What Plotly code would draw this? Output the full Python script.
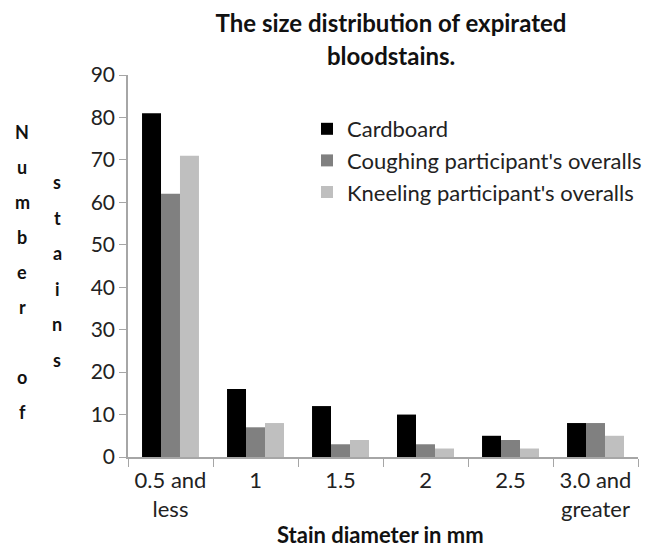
import plotly.graph_objects as go

categories = ["0.5 and<br>less", "1", "1.5", "2", "2.5", "3.0 and<br>greater"]
cardboard = [81, 16, 12, 10, 5, 8]
coughing = [62, 7, 3, 3, 4, 8]
kneeling = [71, 8, 4, 2, 2, 5]
series_names = ["Cardboard", "Coughing participant's overalls", "Kneeling participant's overalls"]
series_colors = ["#000000", "#808080", "#bfbfbf"]
y_ticks = [0, 10, 20, 30, 40, 50, 60, 70, 80, 90]
title_line1 = "The size distribution of expirated"
title_line2 = "bloodstains."
x_title = "Stain diameter in mm"
y_title_col1 = list("Number") + [""] + list("of")
y_title_col2 = list("stains")

FONT = "Lato"
L, R, T, B = 128, 11, 75, 90
W, H = 649, 547
pw, ph = W - L - R, H - T - B


def px(x):
    return (x - L) / pw


def py(y):
    return (H - y - B) / ph


fig = go.Figure()
for i, (name, vals, col) in enumerate(zip(series_names, [cardboard, coughing, kneeling], series_colors)):
    fig.add_trace(go.Bar(x=categories, y=vals, name=name, marker=dict(color=col, line=dict(width=0)),
                         legendgroup=str(i)))

annotations = []
for k, ch in enumerate(y_title_col1):
    if ch:
        annotations.append(dict(text="<b>%s</b>" % ch, x=px(22), y=py(132 + 35 * k)))
for k, ch in enumerate(y_title_col2):
    if ch:
        annotations.append(dict(text="<b>%s</b>" % ch, x=px(57), y=py(182 + 35.5 * k)))
for a in annotations:
    a.update(xref="paper", yref="paper", showarrow=False, xanchor="center", yanchor="middle",
             font=dict(family=FONT, size=18, color="#111"))

annotations.append(dict(text="<b>%s</b>" % x_title, x=px(380), y=py(534), xref="paper", yref="paper",
                        showarrow=False, xanchor="center", yanchor="middle",
                        font=dict(family=FONT, size=22, color="#111")))
annotations.append(dict(text="<b>%s</b>" % title_line2, x=px(391), y=py(56), xref="paper", yref="paper",
                        showarrow=False, xanchor="center", yanchor="middle",
                        font=dict(family=FONT, size=24, color="#111")))

fig.update_layout(
    width=W, height=H,
    margin=dict(l=L, r=R, t=T, b=B, autoexpand=False),
    paper_bgcolor="white", plot_bgcolor="white",
    barmode="group", bargap=0.33, bargroupgap=0,
    title=dict(text="<b>%s</b>" % title_line1, x=391 / W, xanchor="center", y=1 - 24 / H, yanchor="middle",
               font=dict(family=FONT, size=24, color="#111")),
    font=dict(family=FONT, color="#222"),
    showlegend=True,
    legend=dict(x=px(307), y=py(108), xanchor="left", yanchor="top",
                font=dict(family=FONT, size=22, color="#222"), tracegroupgap=0, bgcolor="rgba(0,0,0,0)"),
    annotations=annotations,
)
fig.update_yaxes(range=[0, 90], tickvals=y_ticks, showgrid=False, showline=True, linecolor="#a6a6a6", linewidth=1.5,
                 ticks="outside", ticklen=7, tickcolor="#a6a6a6", tickfont=dict(family=FONT, size=21, color="#222"),
                 zeroline=False, automargin=False)
fig.update_xaxes(showgrid=False, showline=True, linecolor="#a6a6a6", linewidth=1.5, ticks="outside", ticklen=8,
                 tickcolor="#a6a6a6", tickson="boundaries", ticklabelstandoff=3, tickangle=0, automargin=False,
                 tickfont=dict(family=FONT, size=22, color="#222"))

fig.write_html("out.html", config={"displayModeBar": False},
               post_script="document.body.style.margin='0';")
